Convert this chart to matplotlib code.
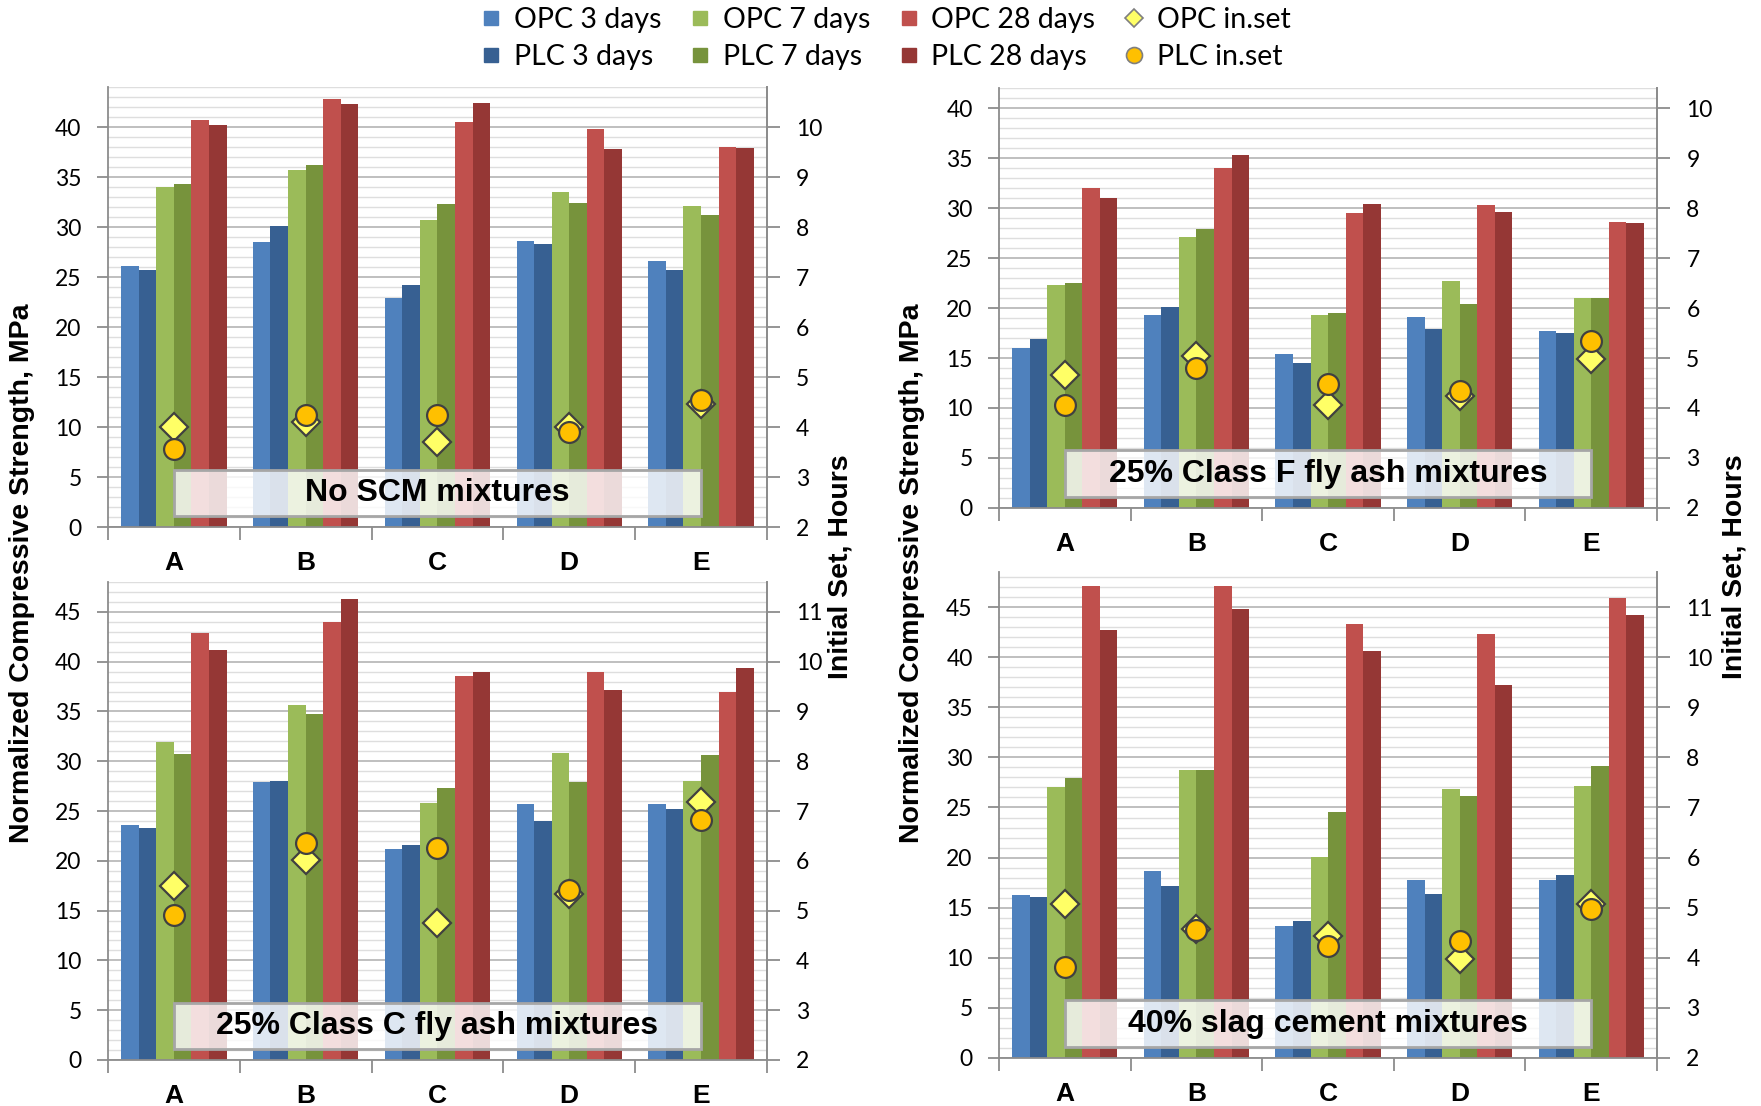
import numpy as np
import matplotlib
matplotlib.use('Agg')
import matplotlib.pyplot as plt
from matplotlib.patches import Rectangle
from matplotlib.lines import Line2D

categories = ['A', 'B', 'C', 'D', 'E']
series_names = ['OPC 3 days', 'PLC 3 days', 'OPC 7 days', 'PLC 7 days', 'OPC 28 days', 'PLC 28 days']
panel_titles = ['No SCM mixtures', '25% Class F fly ash mixtures',
                '25% Class C fly ash mixtures', '40% slag cement mixtures']

# No SCM
noscm_opc3 = [26.1, 28.5, 22.9, 28.6, 26.6]
noscm_plc3 = [25.7, 30.1, 24.2, 28.3, 25.7]
noscm_opc7 = [34.0, 35.7, 30.7, 33.5, 32.1]
noscm_plc7 = [34.3, 36.2, 32.3, 32.4, 31.2]
noscm_opc28 = [40.7, 42.8, 40.5, 39.8, 38.0]
noscm_plc28 = [40.2, 42.3, 42.4, 37.8, 37.9]
noscm_opc_set = [4.0, 4.1, 3.7, 4.0, 4.47]
noscm_plc_set = [3.57, 4.25, 4.25, 3.91, 4.55]

# 25% class F fly ash
flyf_opc3 = [16.0, 19.3, 15.4, 19.1, 17.7]
flyf_plc3 = [16.9, 20.1, 14.5, 17.9, 17.5]
flyf_opc7 = [22.3, 27.1, 19.3, 22.7, 21.0]
flyf_plc7 = [22.5, 27.9, 19.5, 20.4, 21.0]
flyf_opc28 = [32.0, 34.0, 29.5, 30.3, 28.6]
flyf_plc28 = [31.0, 35.3, 30.4, 29.6, 28.5]
flyf_opc_set = [4.67, 5.04, 4.06, 4.23, 4.99]
flyf_plc_set = [4.06, 4.80, 4.48, 4.34, 5.34]

# 25% class C fly ash
flyc_opc3 = [23.6, 27.9, 21.2, 25.7, 25.7]
flyc_plc3 = [23.25, 28.0, 21.6, 24.0, 25.2]
flyc_opc7 = [31.95, 35.6, 25.8, 30.8, 28.0]
flyc_plc7 = [30.7, 34.7, 27.3, 27.9, 30.6]
flyc_opc28 = [42.85, 44.0, 38.6, 39.0, 37.0]
flyc_plc28 = [41.2, 46.3, 39.0, 37.2, 39.4]
flyc_opc_set = [5.5, 6.02, 4.76, 5.34, 7.18]
flyc_plc_set = [4.92, 6.35, 6.26, 5.41, 6.82]

# 40% slag
slag_opc3 = [16.3, 18.7, 13.2, 17.8, 17.8]
slag_plc3 = [16.1, 17.2, 13.7, 16.4, 18.3]
slag_opc7 = [27.0, 28.7, 20.1, 26.8, 27.1]
slag_plc7 = [27.9, 28.7, 24.6, 26.1, 29.1]
slag_opc28 = [47.1, 47.1, 43.3, 42.3, 45.9]
slag_plc28 = [42.7, 44.8, 40.6, 37.2, 44.2]
slag_opc_set = [5.08, 4.58, 4.44, 3.98, 5.08]
slag_plc_set = [3.81, 4.56, 4.24, 4.33, 4.98]

bar_colors = ['#4F81BD', '#376092', '#9BBB59', '#77933C', '#C0504D', '#953735']
axis_gray = '#8c8c8c'
tick_font = 'Lato'
bold_font = 'Liberation Sans'


def draw_panel(ax, bars, opc_set, plc_set, title, ymax):
    '''bars on the left axis, initial set markers on a twin axis'''
    x = np.arange(len(categories))
    w = 0.8 / 6
    for i, vals in enumerate(bars):
        ax.bar(x + (i - 2.5) * w, vals, width=w, color=bar_colors[i], zorder=2)

    ax.set_xlim(-0.5, 4.5)
    ax.set_ylim(0, ymax)
    ax.set_axisbelow(True)
    ax.set_yticks(np.arange(0, ymax + 0.01, 5))
    ax.set_yticks(np.arange(0, ymax + 0.01, 1), minor=True)
    ax.grid(True, which='major', axis='y', color='#b4b4b4', lw=1.2, zorder=0)
    ax.grid(True, which='minor', axis='y', color='#dedede', lw=1.0, zorder=0)

    ax.set_xticks(np.arange(-0.5, 5, 1))
    ax.set_xticklabels([])
    ax.set_xticks(x, minor=True)
    ax.set_xticklabels(categories, minor=True, fontsize=19, fontweight='bold', family=bold_font)
    ax.tick_params(axis='x', which='major', length=9, width=1.3, color=axis_gray)
    ax.tick_params(axis='x', which='minor', length=0, pad=17)
    ax.tick_params(axis='y', which='major', length=8, width=1.3, color=axis_gray,
                   labelsize=16.5, pad=11)
    ax.tick_params(axis='y', which='minor', length=0)
    for lab in ax.get_yticklabels():
        lab.set_family(tick_font)

    for s in ['left', 'right', 'bottom']:
        ax.spines[s].set_color(axis_gray)
        ax.spines[s].set_linewidth(1.3)
    ax.spines['top'].set_visible(False)

    # label box
    ax.add_patch(Rectangle((0, 1.1), 4, 4.65, facecolor='white', alpha=0.82,
                           edgecolor='none', zorder=5))
    ax.add_patch(Rectangle((0, 1.1), 4, 4.65, facecolor='none',
                           edgecolor='#a6a6a6', lw=2, zorder=6))
    ax.text(2, 3.4, title, ha='center', va='center', fontsize=23,
            fontweight='bold', family=bold_font, zorder=7)

    ax2 = ax.twinx()
    ax2.set_ylim(2, 2 + ymax / 5)
    ax2.set_yticks(np.arange(2, 2 + ymax / 5 + 0.01, 1))
    ax2.tick_params(axis='y', length=9, width=1.3, color=axis_gray, labelsize=16.5, pad=12)
    for lab in ax2.get_yticklabels():
        lab.set_family(tick_font)
    for s in ['top', 'left', 'bottom']:
        ax2.spines[s].set_visible(False)
    ax2.spines['right'].set_color(axis_gray)
    ax2.spines['right'].set_linewidth(1.3)

    ax2.plot(x, opc_set, linestyle='none', marker='D', ms=14, mfc='#FFFF66',
             mec='#404040', mew=1.6, zorder=8)
    ax2.plot(x, plc_set, linestyle='none', marker='o', ms=15, mfc='#FFC000',
             mec='#404040', mew=1.6, zorder=9)


def main():
    fig = plt.figure(figsize=(17.61, 11.06), dpi=100)

    positions = [[0.0613, 0.5235, 0.3742, 0.3978],
                 [0.5673, 0.5407, 0.3737, 0.3797],
                 [0.0613, 0.0416, 0.3742, 0.4322],
                 [0.5673, 0.0434, 0.3737, 0.4394]]
    ymaxes = [44, 42, 48, 48.5]

    panels = [
        ([noscm_opc3, noscm_plc3, noscm_opc7, noscm_plc7, noscm_opc28, noscm_plc28],
         noscm_opc_set, noscm_plc_set),
        ([flyf_opc3, flyf_plc3, flyf_opc7, flyf_plc7, flyf_opc28, flyf_plc28],
         flyf_opc_set, flyf_plc_set),
        ([flyc_opc3, flyc_plc3, flyc_opc7, flyc_plc7, flyc_opc28, flyc_plc28],
         flyc_opc_set, flyc_plc_set),
        ([slag_opc3, slag_plc3, slag_opc7, slag_plc7, slag_opc28, slag_plc28],
         slag_opc_set, slag_plc_set),
    ]

    for k, (bars, oset, pset) in enumerate(panels):
        ax = fig.add_axes(positions[k])
        draw_panel(ax, bars, oset, pset, panel_titles[k], ymaxes[k])

    # axis titles shared between rows
    for xp in [22 / 1761, 912 / 1761]:
        fig.text(xp, 1 - 573 / 1106, 'Normalized Compressive Strength, MPa', rotation=90,
                 ha='center', va='center', fontsize=20.5, fontweight='bold', family=bold_font)
    for xp in [841 / 1761, 1735 / 1761]:
        fig.text(xp, 1 - 567 / 1106, 'Initial Set, Hours', rotation=90,
                 ha='center', va='center', fontsize=20.5, fontweight='bold', family=bold_font)

    handles = []
    for i, name in enumerate(series_names):
        handles.append(Line2D([], [], linestyle='none', marker='s', ms=10.5,
                              mfc=bar_colors[i], mec=bar_colors[i], label=name))
    handles.append(Line2D([], [], linestyle='none', marker='D', ms=9, mfc='#FFFF66',
                          mec='#7f7f7f', mew=1.2, label='OPC in.set'))
    handles.append(Line2D([], [], linestyle='none', marker='o', ms=11.5, mfc='#FFC000',
                          mec='#7f7f7f', mew=1.2, label='PLC in.set'))

    fig.legend(handles=handles, ncol=4, loc='upper center', bbox_to_anchor=(0.503, 1.009),
               frameon=False, prop={'family': tick_font, 'size': 20.5},
               handlelength=0.7, handletextpad=0.45, columnspacing=1.0,
               labelspacing=0.38, borderaxespad=0.2)

    fig.savefig('out.png', dpi=100)


main()
